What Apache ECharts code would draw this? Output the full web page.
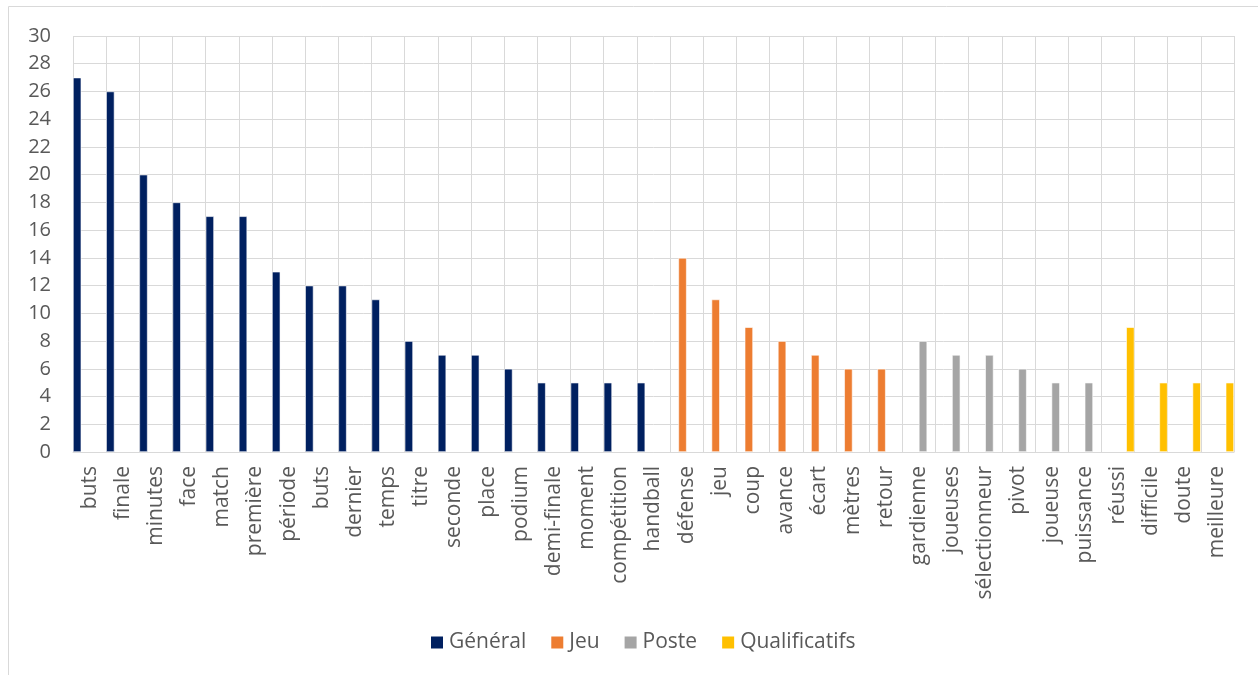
<!DOCTYPE html>
<html>
<head>
<meta charset="utf-8">
<script src="https://cdn.jsdelivr.net/npm/echarts@6/dist/echarts.min.js"></script>
<style>
html,body{margin:0;padding:0;background:#fff;}
#chart{width:1258px;height:675px;}
</style>
</head>
<body>
<div id="chart"></div>
<script>
const generalWords = ['buts','finale','minutes','face','match','première','période','buts','dernier','temps','titre','seconde','place','podium','demi-finale','moment','compétition','handball'];
const generalValues = [27,26,20,18,17,17,13,12,12,11,8,7,7,6,5,5,5,5];
const jeuWords = ['défense','jeu','coup','avance','écart','mètres','retour'];
const jeuValues = [14,11,9,8,7,6,6];
const posteWords = ['gardienne','joueuses','sélectionneur','pivot','joueuse','puissance'];
const posteValues = [8,7,7,6,5,5];
const qualWords = ['réussi','difficile','doute','meilleure'];
const qualValues = [9,5,5,5];
const seriesNames = ['Général','Jeu','Poste','Qualificatifs'];
const yTicks = [0,2,4,6,8,10,12,14,16,18,20,22,24,26,28,30];

const groups = [
  {name: seriesNames[0], words: generalWords, values: generalValues, color: '#002060'},
  {name: seriesNames[1], words: jeuWords, values: jeuValues, color: '#ED7D31'},
  {name: seriesNames[2], words: posteWords, values: posteValues, color: '#A5A5A5'},
  {name: seriesNames[3], words: qualWords, values: qualValues, color: '#FFC000'}
];
const categories = [].concat(...groups.map(g => g.words));
let offset = 0;
const series = groups.map(g => {
  const data = categories.map(() => '-');
  g.values.forEach((v, i) => { data[offset + i] = v; });
  offset += g.words.length;
  return {
    name: g.name,
    type: 'bar',
    data: data,
    barGap: '0%',
    barCategoryGap: '0%',
    itemStyle: {color: g.color, borderColor: '#ffffff', borderWidth: 0.6},
    emphasis: {disabled: true}
  };
});

const chart = echarts.init(document.getElementById('chart'));
chart.setOption({
  animation: false,
  color: groups.map(g => g.color),
  graphic: [{
    type: 'rect',
    shape: {x: 8.5, y: 6.5, width: 1300, height: 700},
    style: {fill: 'none', stroke: '#d9d9d9', lineWidth: 1},
    silent: true, z: -1
  }],
  grid: {left: 73, top: 36, width: 1161, height: 416, containLabel: false},
  legend: {
    data: seriesNames,
    top: 627,
    left: 424,
    itemWidth: 14, itemHeight: 14, itemGap: 23,
    icon: 'rect',
    textStyle: {fontFamily: 'Open Sans', fontSize: 21, color: '#595959'}
  },
  xAxis: {
    type: 'category',
    data: categories,
    axisLine: {lineStyle: {color: '#d9d9d9', width: 1}},
    axisTick: {show: false},
    splitLine: {show: true, interval: 0, lineStyle: {color: '#d9d9d9', width: 1}},
    axisLabel: {interval: 0, rotate: 90, margin: 14, fontFamily: 'Open Sans', fontSize: 21, color: '#595959'}
  },
  yAxis: {
    type: 'value',
    min: 0, max: 30, interval: 2,
    axisLine: {show: false},
    axisTick: {show: false},
    splitLine: {lineStyle: {color: '#d9d9d9', width: 1}},
    axisLabel: {margin: 22, fontFamily: 'Open Sans', fontSize: 20, color: '#595959',
      formatter: v => yTicks.includes(v) ? String(v) : ''}
  },
  series: series
});
</script>
</body>
</html>
